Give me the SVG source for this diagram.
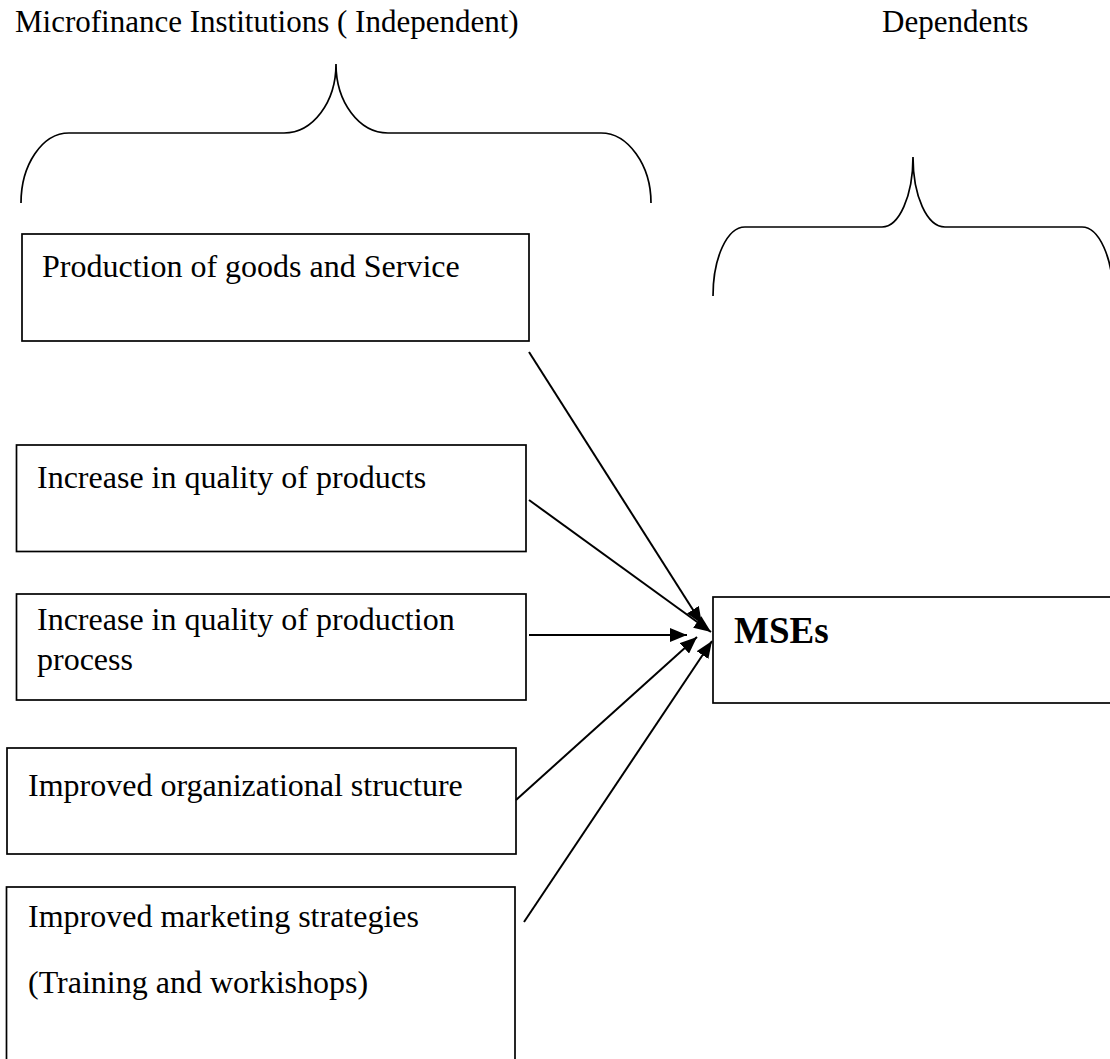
<svg xmlns="http://www.w3.org/2000/svg" width="1110" height="1059" viewBox="0 0 1110 1059">
<defs>
<style>
.t{font-family:"Liberation Serif","Times New Roman",serif;font-size:31px;fill:#000}
.n{font-family:"Liberation Serif","Times New Roman",serif;font-size:32px;fill:#000}
.b{font-family:"Liberation Serif","Times New Roman",serif;font-size:37px;font-weight:bold;fill:#000}
.box{fill:#fff;stroke:#000;stroke-width:1.7}
.br{fill:none;stroke:#000;stroke-width:1.7}
.c{stroke:#000;stroke-width:2;fill:none}
</style>
<marker id="ah" markerUnits="userSpaceOnUse" markerWidth="17" markerHeight="14" refX="17" refY="7" orient="auto">
<path d="M0,0 L17,7 L0,14 z" fill="#000"/>
</marker>
</defs>
<rect width="1110" height="1059" fill="#fff"/>
<text class="t" x="15" y="32">Microfinance Institutions ( Independent)</text>
<text class="t" x="882" y="32">Dependents</text>
<g id="brace-independent">
<path class="br" d="M21,203 C21,165 42,133 69,133 L284,133 C313,133 336,102 336,64 C336,102 359,133 388,133 L601,133 C628,133 651,165 651,203"/>
</g>
<g id="brace-dependent">
<path class="br" d="M713,296 C713,258 727,227 745,227 L882,227 C899,227 913,196 913,157 C913,196 927,227 945,227 L1082,227 C1099,227 1113,258 1113,296"/>
</g>
<g id="node-production">
<rect class="box" x="22" y="234" width="507" height="107"/>
<text class="n" x="42" y="277">Production of goods and Service</text>
</g>
<g id="node-quality-products">
<rect class="box" x="16.5" y="445" width="509.5" height="106.5"/>
<text class="n" x="37" y="488">Increase in quality of products</text>
</g>
<g id="node-quality-process">
<rect class="box" x="16.5" y="594" width="509.5" height="106"/>
<text class="n" x="37" y="630">Increase in quality of production</text>
<text class="n" x="37" y="670">process</text>
</g>
<g id="node-org-structure">
<rect class="box" x="7" y="748" width="509" height="106"/>
<text class="n" x="28" y="796">Improved organizational structure</text>
</g>
<g id="node-marketing">
<rect class="box" x="6.5" y="887" width="508.5" height="200"/>
<text class="n" x="28" y="927">Improved marketing strategies</text>
<text class="n" x="28" y="993">(Training and workishops)</text>
</g>
<g id="node-mses">
<rect class="box" x="713" y="597" width="420" height="106"/>
<text class="b" x="734" y="643">MSEs</text>
</g>
<g id="connectors">
<line class="c" x1="529" y1="352" x2="702" y2="624" marker-end="url(#ah)"/>
<line class="c" x1="529" y1="500" x2="711" y2="632" marker-end="url(#ah)"/>
<line class="c" x1="529" y1="635" x2="687" y2="635" marker-end="url(#ah)"/>
<line class="c" x1="516" y1="800" x2="697" y2="637" marker-end="url(#ah)"/>
<line class="c" x1="524" y1="922" x2="712" y2="641" marker-end="url(#ah)"/>
</g>
</svg>
